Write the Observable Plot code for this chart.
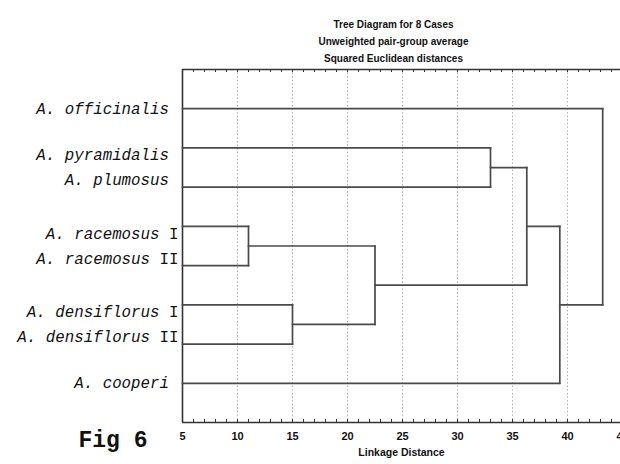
<!DOCTYPE html>
<html><head><meta charset="utf-8">
<script src="https://cdn.jsdelivr.net/npm/d3@7"></script>
<script src="https://cdn.jsdelivr.net/npm/@observablehq/plot@0.6"></script>
<style>html,body{margin:0;padding:0;background:#fff;overflow:hidden}</style>
</head><body><div id="chart"></div>
<script>
const titleLines = ["Tree Diagram for 8 Cases", "Unweighted pair-group average", "Squared Euclidean distances"];
const xLabel = "Linkage Distance";
const figLabel = "Fig 6";
const leafNames = ["A. officinalis", "A. pyramidalis", "A. plumosus", "A. racemosus", "A. racemosus", "A. densiflorus", "A. densiflorus", "A. cooperi"];
const leafNumerals = ["", "", "", "I", "II", "I", "II", ""];
const labelGroups = [0, 1, 1, 2, 2, 3, 3, 4];
// cluster merges (ids 0-7 leaves, 8+ new clusters in order)
const mergeLeft = [3, 5, 8, 1, 11, 12, 0];
const mergeRight = [4, 6, 9, 2, 10, 7, 13];
const mergeHeight = [11.0, 15.0, 22.5, 33.0, 36.3, 39.3, 43.2];
const xTicks = [5, 10, 15, 20, 25, 30, 35, 40, 45];
const gridTicks = [10, 15, 20, 25, 30, 35, 40, 45];
const minorTicks = d3.range(5, 46, 1);

const W = 620, H = 464, mT = 69, mB = 42, mL = 182;
const bandPx = (H - mT - mB) / 9;
const monoSize = 15.8, charW = monoSize * 0.6;

// dendrogram layout
const nodes = leafNames.map((n, i) => ({x: 5, y: i + 1}));
const segs = [];
mergeHeight.forEach((h, k) => {
  const a = nodes[mergeLeft[k]], b = nodes[mergeRight[k]];
  segs.push({x1: a.x, y1: a.y, x2: h, y2: a.y});
  segs.push({x1: b.x, y1: b.y, x2: h, y2: b.y});
  segs.push({x1: h, y1: a.y, x2: h, y2: b.y});
  nodes.push({x: h, y: (a.y + b.y) / 2});
});

// label layout: labels of a group packed around the group's centre
const pairGap = 25 / bandPx;
const labels = leafNames.map((name, i) => {
  const members = labelGroups.map((g, j) => g === labelGroups[i] ? j : -1).filter(j => j >= 0);
  const pos = members.indexOf(i);
  const c = d3.mean(members, j => j + 1);
  return {y: c + (pos - (members.length - 1) / 2) * pairGap, name, num: leafNumerals[i]};
});

const monoFont = "'Liberation Mono', 'Courier New', monospace";
const nameMarks = [0, 1, 2].map(len =>
  Plot.text(labels.filter(d => d.num.length === len), {
    x: () => 5, y: "y", text: "name", textAnchor: "end",
    dx: -4 - (len + 1) * charW,
    fontFamily: monoFont, fontStyle: "italic", fontSize: monoSize, fill: "#111"
  })
);

const lineColor = "#4a4a4a";
const chart = Plot.plot({
  width: W, height: H,
  marginLeft: mL, marginRight: 0, marginTop: mT, marginBottom: mB,
  x: {domain: [5, 45], range: [mL, 622], axis: null},
  y: {domain: [0, 9], reverse: true, axis: null},
  style: {fontFamily: "'Liberation Sans', Arial, sans-serif", background: "white", color: "#111"},
  marks: [
    Plot.ruleX(gridTicks, {x: d => d, stroke: "#9a9a9a", strokeWidth: 0.9, strokeDasharray: "1.2,2.4"}),
    Plot.ruleX(minorTicks, {x: d => d, insetTop: H - mT - mB - 3, stroke: "#333", strokeWidth: 1}),
    Plot.ruleX(minorTicks, {x: d => d, insetBottom: H - mT - mB - 3, stroke: "#333", strokeWidth: 1}),
    Plot.ruleY([0, 9], {stroke: "#333", strokeWidth: 1.6}),
    Plot.ruleX([5], {stroke: "#333", strokeWidth: 1.6}),
    Plot.link(segs, {x1: "x1", y1: "y1", x2: "x2", y2: "y2", stroke: lineColor, strokeWidth: 1.7, strokeLinecap: "square"}),
    ...nameMarks,
    Plot.text(labels.filter(d => d.num), {x: () => 5, y: "y", text: "num", textAnchor: "end", dx: -4,
      fontFamily: monoFont, fontSize: monoSize, fill: "#111"}),
    Plot.text(xTicks, {x: d => d, y: () => 9, text: d => String(d), dy: 14,
      fontSize: 11, fontWeight: "bold", letterSpacing: "-1px", fill: "#111"}),
    Plot.text([xLabel], {frameAnchor: "bottom", dy: 33, fontSize: 10.5, fontWeight: "bold", letterSpacing: "-0.4px", fill: "#111"}),
    Plot.text([titleLines[0]], {frameAnchor: "top", dx: -8, dy: -49, fontSize: 10, fontWeight: "bold", letterSpacing: "-0.7px", fill: "#111"}),
    Plot.text([titleLines[1]], {frameAnchor: "top", dx: -8, dy: -32, fontSize: 10, fontWeight: "bold", letterSpacing: "-0.7px", fill: "#111"}),
    Plot.text([titleLines[2]], {frameAnchor: "top", dx: -8, dy: -15, fontSize: 10, fontWeight: "bold", letterSpacing: "-0.7px", fill: "#111"}),
    Plot.text([figLabel], {frameAnchor: "bottom-left", dx: -104, dy: 24.5, textAnchor: "start",
      fontFamily: monoFont, fontWeight: "bold", fontSize: 23, fill: "#111"})
  ]
});
document.getElementById("chart").append(chart);
</script>
</body></html>
